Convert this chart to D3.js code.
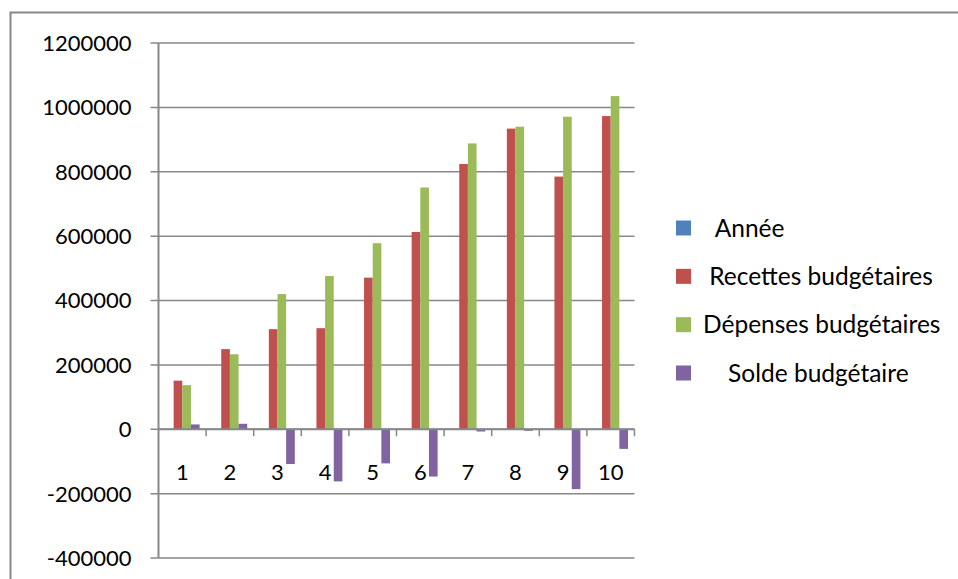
<!DOCTYPE html>
<html>
<head>
<meta charset="utf-8">
<script src="https://cdn.jsdelivr.net/npm/d3@7"></script>
<style>
  html, body { margin: 0; padding: 0; background: #fff; }
  svg { display: block; font-family: Lato, "Open Sans", sans-serif; }
  .lbl { white-space: pre; }
</style>
</head>
<body>
<svg id="chart" width="958" height="579"></svg>
<script>
// Budget figures per year index
const categories = ["1", "2", "3", "4", "5", "6", "7", "8", "9", "10"];
const seriesNames = ["  Année", " Recettes budgétaires", "Dépenses budgétaires", "    Solde budgétaire"];
const annee    = [1, 2, 3, 4, 5, 6, 7, 8, 9, 10];
const recettes = [151000, 249000, 311000, 314000, 471000, 613000, 824000, 934000, 785000, 973000];
const depenses = [137000, 233000, 420000, 476000, 578000, 751000, 888000, 940000, 971000, 1035000];
const solde    = [15000, 17000, -108000, -162000, -106000, -147000, -7000, -5000, -186000, -61000];
const yTicks   = [-400000, -200000, 0, 200000, 400000, 600000, 800000, 1000000, 1200000];
const colors   = ["#4F81BD", "#C0504D", "#9BBB59", "#8064A2"];

const seriesValues = [annee, recettes, depenses, solde];
const svg = d3.select("#chart");
const gridColor = "#878787";

// chart frame
svg.append("rect")
  .attr("x", 10.5).attr("y", 12.5)
  .attr("width", 1000).attr("height", 1000)
  .attr("fill", "none").attr("stroke", gridColor).attr("stroke-width", 2);

const plot = { left: 158.5, right: 634.5, top: 43, bottom: 558 };

const y = d3.scaleLinear().domain([-400000, 1200000]).range([plot.bottom, plot.top]);
const x = d3.scaleBand().domain(categories).range([plot.left, plot.right]).padding(0);
const xs = d3.scaleBand().domain(d3.range(seriesNames.length))
  .range([0, x.bandwidth()]).paddingInner(0).paddingOuter(0.75);

// horizontal gridlines with their tick stubs
svg.append("g").selectAll("line").data(yTicks).join("line")
  .attr("x1", plot.left - 8).attr("x2", plot.right)
  .attr("y1", d => y(d)).attr("y2", d => y(d))
  .attr("stroke", gridColor).attr("stroke-width", 1.5);

// value axis line
svg.append("line")
  .attr("x1", plot.left).attr("x2", plot.left)
  .attr("y1", plot.top).attr("y2", plot.bottom)
  .attr("stroke", gridColor).attr("stroke-width", 2);

// value labels (plain hyphen for negatives)
svg.append("g").selectAll("text").data(yTicks).join("text")
  .attr("x", 131.5).attr("y", d => y(d))
  .attr("dy", "0.36em")
  .attr("text-anchor", "end")
  .attr("font-size", 22).attr("fill", "#000")
  .text(d => String(d));

// bars
const barData = [];
seriesValues.forEach((vals, s) => vals.forEach((v, i) => barData.push({ s, cat: categories[i], v })));
svg.append("g").selectAll("rect").data(barData).join("rect")
  .attr("x", d => x(d.cat) + xs(d.s))
  .attr("width", xs.bandwidth())
  .attr("y", d => y(Math.max(0, d.v)))
  .attr("height", d => Math.abs(y(d.v) - y(0)))
  .attr("fill", d => colors[d.s]);

// category axis along zero
svg.append("line")
  .attr("x1", plot.left).attr("x2", plot.right)
  .attr("y1", y(0)).attr("y2", y(0))
  .attr("stroke", gridColor).attr("stroke-width", 2);
const boundaries = categories.map(c => x(c) + x.bandwidth());
svg.append("g").selectAll("line").data(boundaries).join("line")
  .attr("x1", d => d).attr("x2", d => d)
  .attr("y1", y(0)).attr("y2", y(0) + 7)
  .attr("stroke", gridColor).attr("stroke-width", 1.5);

svg.append("g").selectAll("text").data(categories).join("text")
  .attr("x", d => x(d) + x.bandwidth() / 2)
  .attr("y", 480)
  .attr("text-anchor", "middle")
  .attr("font-size", 22).attr("fill", "#000")
  .text(d => d);

// legend
const legendY = d3.scalePoint().domain(d3.range(seriesNames.length)).range([228, 373]);
const lg = svg.append("g").selectAll("g").data(seriesNames).join("g")
  .attr("transform", (d, i) => `translate(0,${legendY(i)})`);
lg.append("rect")
  .attr("x", 676).attr("y", -7.5).attr("width", 15).attr("height", 15)
  .attr("fill", (d, i) => colors[i]);
lg.append("text")
  .attr("class", "lbl")
  .attr("x", 703).attr("dy", "0.36em")
  .attr("font-size", 24.5).attr("fill", "#000")
  .text(d => d);
</script>
</body>
</html>
